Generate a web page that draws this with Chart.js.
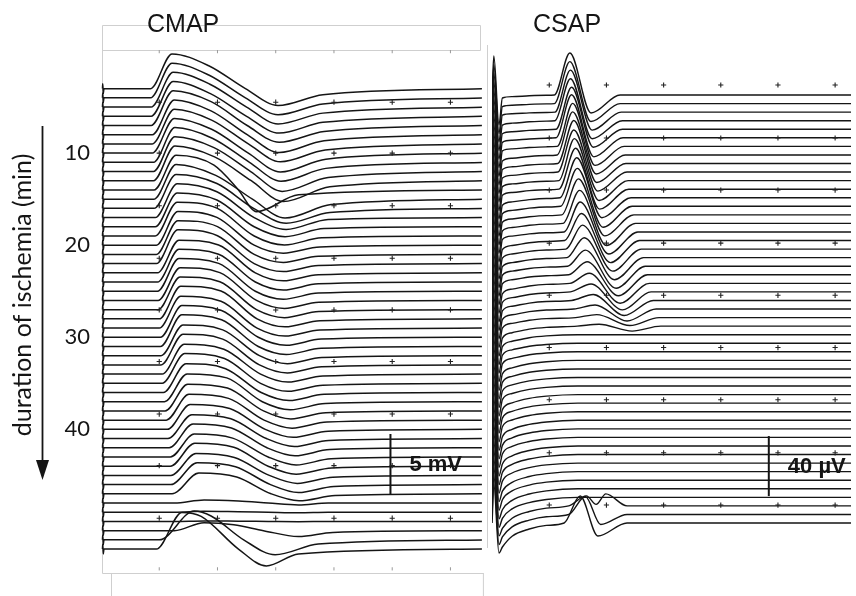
<!DOCTYPE html>
<html><head><meta charset="utf-8">
<script src="https://cdn.jsdelivr.net/npm/chart.js"></script>
<style>
html,body{margin:0;padding:0;background:#fff;}
#wrap{position:relative;width:856px;height:596px;overflow:hidden;background:#fff;}
#wrap canvas{position:absolute;top:0;}
</style></head><body>
<div id="wrap">
<canvas id="cmap" width="487" height="596" style="left:0;width:487px;height:596px"></canvas>
<canvas id="csap" width="369" height="596" style="left:487px;width:369px;height:596px"></canvas>
</div>
<script>
// ---- recording times (min of ischemia) of the stacked sweeps ----
const traceMinutes = [3,4,5,6,7,8,9,10,11,12,13,14,15,16,17,18,19,20,21,22,23,24,25,26,27,28,29,30,31,32,33,34,35,36,37,38,39,40,41,42,43,44,45,46,47,48,49,50,51,52,53];
const minuteTicks = [10,20,30,40];
const panelTitles = ['CMAP','CSAP'];
const axisTitle = 'duration of ischemia (min)';
const scaleBarValues = [5, 40];
const scaleBarLabels = ['5 mV','40 µV'];
const gridMs = [1,2,3,4,5,6];
const cmapGridRows = [4.47,10.0,15.71,21.42,27.03,32.63,38.34,43.94,49.65];
const cmapFrameRows = [-1.02,55.15];
const csapGridRows = [1.83,8.02,14.1,20.3,26.4,32.5,38.6,44.8,50.9];

// ---- CMAP key points per sweep (ms, mV) ----
const cmapOnset = [0.85,0.85,0.86,0.86,0.86,0.88,0.88,0.88,0.90,0.90,
 0.90,0.91,0.91,0.91,0.93,0.93,0.93,0.95,0.95,0.95,
 0.97,0.97,0.97,0.98,0.98,1.00,1.00,1.02,1.02,1.03,
 1.03,1.05,1.05,1.07,1.09,1.10,1.12,1.14,1.15,1.17,
 1.19,1.19,1.20,1.20,1.22,1.26,1.26,1.26,1.26,1.00,
 0.95];
const cmapPeakT = [1.22,1.22,1.24,1.24,1.24,1.26,1.26,1.26,1.27,1.27,
 1.27,1.29,1.29,1.29,1.31,1.31,1.31,1.32,1.32,1.32,
 1.34,1.34,1.34,1.36,1.36,1.37,1.37,1.39,1.39,1.41,
 1.41,1.43,1.44,1.46,1.48,1.49,1.51,1.53,1.56,1.58,
 1.60,1.61,1.63,1.65,1.68,1.77,1.77,1.77,1.77,1.60,
 1.39];
const cmapPeak = [2.87,2.87,2.87,2.87,2.87,2.87,2.87,2.87,2.87,2.87,
 2.87,2.87,2.87,2.79,2.79,2.79,2.79,2.79,2.79,2.79,
 2.70,2.70,2.70,2.70,2.70,2.70,2.62,2.62,2.62,2.54,
 2.54,2.46,2.46,2.38,2.30,2.21,2.13,2.05,1.97,1.97,
 1.89,1.89,1.80,1.80,1.72,0.25,0.08,0.04,0.66,2.38,
 3.03];
const cmapShoulderT = [1.85,1.85,1.87,1.87,1.89,1.89,1.90,1.90,1.92,1.94,
 1.95,1.94,1.97,1.99,1.99,1.99,1.99,1.99,2.00,2.00,
 2.02,2.02,2.02,2.04,2.04,2.06,2.06,2.07,2.07,2.09,
 2.09,2.11,2.12,2.14,2.16,2.17,2.19,2.21,2.23,2.24,
 2.26,2.28,2.29,2.31,2.33,2.36,2.36,2.36,2.28,1.89,
 1.72];
const cmapShoulder = [1.89,1.89,1.89,1.89,1.97,1.97,1.97,1.97,1.97,1.97,
 1.97,2.05,1.97,2.05,2.13,2.21,2.30,2.30,2.30,2.30,
 2.30,2.30,2.30,2.30,2.30,2.30,2.21,2.21,2.21,2.13,
 2.13,2.05,2.05,1.97,1.97,1.89,1.80,1.72,1.64,1.64,
 1.56,1.56,1.48,1.48,1.39,0.16,0.04,0.02,0.49,1.97,
 2.70];
const cmapZeroT = [2.48,2.48,2.50,2.50,2.51,2.51,2.53,2.53,2.55,2.57,
 2.58,2.36,2.60,2.62,2.63,2.63,2.63,2.63,2.63,2.63,
 2.65,2.65,2.65,2.67,2.67,2.68,2.68,2.70,2.70,2.72,
 2.72,2.74,2.74,2.75,2.77,2.79,2.80,2.82,2.84,2.85,
 2.87,2.87,2.89,2.91,2.92,2.87,2.87,2.87,2.79,2.45,
 2.36];
const cmapTroughT = [3.04,3.04,3.04,3.06,3.06,3.06,3.08,3.08,3.09,3.11,
 3.13,2.67,3.16,3.18,3.18,3.16,3.15,3.13,3.13,3.13,
 3.13,3.13,3.13,3.15,3.15,3.16,3.16,3.18,3.18,3.20,
 3.20,3.21,3.21,3.23,3.25,3.26,3.28,3.30,3.32,3.33,
 3.35,3.35,3.37,3.39,3.40,3.39,3.39,3.39,3.39,2.99,
 2.84];
const cmapTrough = [-1.39,-1.39,-1.39,-1.39,-1.39,-1.48,-1.48,-1.56,-1.56,-1.64,
 -1.72,-1.80,-1.56,-1.23,-0.98,-0.82,-0.74,-0.66,-0.66,-0.66,
 -0.66,-0.66,-0.66,-0.66,-0.66,-0.66,-0.66,-0.66,-0.66,-0.66,
 -0.66,-0.66,-0.66,-0.66,-0.66,-0.66,-0.66,-0.66,-0.66,-0.66,
 -0.66,-0.66,-0.66,-0.66,-0.57,-0.16,-0.04,-0.02,-0.49,-1.23,
 -1.39];
const cmapRecT = [3.81,3.81,3.81,3.81,3.83,3.83,3.85,3.86,3.86,3.90,
 3.93,3.39,3.95,3.93,3.90,3.83,3.79,3.76,3.73,3.73,
 3.73,3.73,3.73,3.74,3.74,3.76,3.76,3.78,3.78,3.79,
 3.79,3.81,3.81,3.83,3.85,3.86,3.88,3.90,3.91,3.93,
 3.95,3.96,3.98,4.00,4.02,3.90,3.90,3.90,3.98,3.73,
 3.39];
const cmapRec = [-0.50,-0.50,-0.50,-0.50,-0.50,-0.50,-0.50,-0.50,-0.50,-0.50,
 -0.50,-0.40,-0.45,-0.35,-0.15,-0.15,-0.15,-0.15,-0.15,-0.15,
 -0.15,-0.15,-0.15,-0.15,-0.15,-0.15,-0.15,-0.15,-0.15,-0.15,
 -0.15,-0.15,-0.15,-0.15,-0.15,-0.15,-0.15,-0.15,-0.15,-0.15,
 -0.15,-0.15,-0.15,-0.15,-0.15,0,0,0,-0.15,-0.35,
 -0.40];

// ---- CSAP key points per sweep (ms, µV) ----
const csapArtifact = [-2,-2,-2,-3,-3,-3,-3,-4,-4,-4,
 -4,-4,-5,-5,-5,-5,-5,-6,-6,-6,
 -6,-6,-7,-7,-7,-7,-7,-8,-8,-8,
 -8,-9,-9,-9,-9,-10,-10,-10,-11,-11,
 -11,-12,-12,-12,-13,-13,-14,-14,-15,-15,
 -16];
const csapOnsetT = [1.09,1.09,1.10,1.10,1.12,1.12,1.14,1.14,1.15,1.15,
 1.17,1.17,1.19,1.20,1.22,1.24,1.26,1.27,1.29,1.31,
 1.32,1.34,1.36,1.37,1.39,1.43,1.46,1.49,1.50,1.50,
 1.50,1.50,1.50,1.50,1.50,1.50,1.50,1.50,1.50,1.50,
 1.50,1.50,1.50,1.50,1.50,1.50,1.50,1.50,1.34,1.34,
 1.26];
const csapPeakT = [1.36,1.36,1.37,1.37,1.39,1.39,1.41,1.41,1.43,1.43,
 1.44,1.46,1.48,1.49,1.51,1.53,1.54,1.56,1.58,1.61,
 1.63,1.66,1.70,1.73,1.77,1.80,1.83,1.87,1.90,1.90,
 1.90,1.90,1.90,1.90,1.90,1.90,1.90,1.90,1.90,1.90,
 1.90,1.90,1.90,1.90,1.90,1.90,1.90,1.90,1.65,1.63,
 1.54];
const csapPeak = [28,28,28,28,28,28.7,28.7,28.7,28.7,28,
 28,27.3,26.7,25.3,24,22,20,18,16,13.3,
 10.7,8.7,6.7,5.3,4,2.7,2,1.3,0,0,
 0,0,0,0,0,0,0,0,0,0,
 0,0,0,0,0,0,0,0,6.7,12,
 18];
const csapTroughT = [1.73,1.73,1.75,1.75,1.77,1.78,1.80,1.82,1.83,1.85,
 1.87,1.88,1.92,1.94,1.97,2.00,2.04,2.07,2.11,2.14,
 2.17,2.21,2.24,2.28,2.31,2.36,2.41,2.45,2.50,2.50,
 2.50,2.50,2.50,2.50,2.50,2.50,2.50,2.50,2.50,2.50,
 2.50,2.50,2.50,2.50,2.50,2.50,2.50,2.50,1.82,1.90,
 1.85];
const csapTrough = [-12,-12,-12,-12,-12,-12.7,-12.7,-12.7,-12.7,-12.7,
 -13.3,-13.3,-13.3,-14,-14,-14.7,-14.7,-14.7,-14.7,-14.7,
 -14.7,-14,-13.3,-12,-10,-8,-5.3,-3.3,0,0,
 0,0,0,0,0,0,0,0,0,0,
 0,0,0,0,0,0,0,0,1,-6.7,
 -8.7];
const csapPeak2T = [null,null,null,null,null,null,null,null,null,null,
 null,null,null,null,null,null,null,null,null,null,
 null,null,null,null,null,null,null,null,null,null,
 null,null,null,null,null,null,null,null,null,null,
 null,null,null,null,null,null,null,null,1.99,null,
 null];
const csapPeak2 = [null,null,null,null,null,null,null,null,null,null,
 null,null,null,null,null,null,null,null,null,null,
 null,null,null,null,null,null,null,null,null,null,
 null,null,null,null,null,null,null,null,null,null,
 null,null,null,null,null,null,null,null,8,null,
 null];
const csapRecT = [2.24,2.24,2.26,2.28,2.28,2.29,2.31,2.33,2.34,2.36,
 2.38,2.39,2.43,2.45,2.48,2.51,2.55,2.58,2.61,2.65,
 2.68,2.72,2.75,2.78,2.82,2.87,2.92,2.95,3.00,3.00,
 3.00,3.00,3.00,3.00,3.00,3.00,3.00,3.00,3.00,3.00,
 3.00,3.00,3.00,3.00,3.00,3.00,3.00,3.00,2.36,2.36,
 2.36];

// ---- display gains (vertical size of 1 unit in minutes of the stack) ----
const CMAP_MIN_PER_MV = 1.3145;
const CSAP_MIN_PER_UV = 0.1752;
const INK = '#151515';

function cmapTrace(i){
  const b = traceMinutes[i];
  const pts = [[0.025,0],[0.03,0.4],[0.04,-0.4],[0.05,0],
    [cmapOnset[i],0],[cmapPeakT[i],cmapPeak[i]],[cmapShoulderT[i],cmapShoulder[i]],
    [cmapZeroT[i],0],[cmapTroughT[i],cmapTrough[i]],[cmapRecT[i],cmapRec[i]],[6.6,0]];
  return pts.map(p => ({x:p[0], y:b - p[1]*CMAP_MIN_PER_MV}));
}
function csapTrace(i){
  const b = traceMinutes[i], a = csapArtifact[i];
  const pts = [[0,0],[0.03,26],[0.12,-20],[0.18,a],[0.35,a*0.55],[0.65,a*0.25],[0.95,a*0.1],
    [csapOnsetT[i],0],[csapPeakT[i],csapPeak[i]],[csapTroughT[i],csapTrough[i]]];
  if (csapPeak2T[i] !== null) pts.push([csapPeak2T[i], csapPeak2[i]]);
  pts.push([csapRecT[i],0],[6.4,0]);
  return pts.map(p => ({x:p[0], y:b - p[1]*CSAP_MIN_PER_UV}));
}
function gridPoints(rows){
  const out = [];
  rows.forEach(r => gridMs.forEach(x => out.push({x, y:r})));
  return out;
}
const traceStyle = (w) => ({showLine:true, borderColor:INK, borderWidth:w, pointRadius:0,
  cubicInterpolationMode:'monotone', fill:false});

// ----- CMAP datasets -----
const cmapSets = [];
cmapSets.push({data:gridPoints(cmapGridRows), showLine:false, pointStyle:'cross', pointRadius:2.6,
  pointBorderWidth:1.1, pointBorderColor:'#222'});
cmapSets.push({data:gridPoints(cmapFrameRows), showLine:false, pointStyle:'line', rotation:90,
  pointRadius:1.6, pointBorderWidth:1, pointBorderColor:'#999'});
const cmapBarAnchor = 47.07, cmapBarMs = 4.97;
cmapSets.push({data:[{x:cmapBarMs,y:cmapBarAnchor},{x:cmapBarMs,y:cmapBarAnchor - scaleBarValues[0]*CMAP_MIN_PER_MV}],
  showLine:true, borderColor:INK, borderWidth:2, pointRadius:0, barLabel:scaleBarLabels[0]});
traceMinutes.forEach((m,i) => cmapSets.push(Object.assign({data:cmapTrace(i)}, traceStyle(1.5))));

// ----- CSAP datasets -----
const csapSets = [];
csapSets.push({data:gridPoints(csapGridRows), showLine:false, pointStyle:'cross', pointRadius:2.6,
  pointBorderWidth:1.1, pointBorderColor:'#222'});
const csapBarAnchor = 49.85, csapBarMs = 4.84;
csapSets.push({data:[{x:csapBarMs,y:csapBarAnchor},{x:csapBarMs,y:csapBarAnchor - scaleBarValues[1]*CSAP_MIN_PER_UV}],
  showLine:true, borderColor:INK, borderWidth:2, pointRadius:0, barLabel:scaleBarLabels[1]});
traceMinutes.forEach((m,i) => csapSets.push(Object.assign({data:csapTrace(i)}, traceStyle(1.4))));

const barLabelPlugin = {
  id:'barLabel',
  afterDatasetsDraw(chart){
    const ctx = chart.ctx;
    chart.data.datasets.forEach((ds, di) => {
      if (!ds.barLabel) return;
      const pts = chart.getDatasetMeta(di).data;
      ctx.save();
      ctx.font = 'bold 22px "Liberation Sans", Arial, sans-serif';
      ctx.fillStyle = INK; ctx.textAlign = 'left'; ctx.textBaseline = 'middle';
      ctx.fillText(ds.barLabel, pts[0].x + 19, (pts[0].y + pts[1].y)/2 + 1);
      ctx.restore();
    });
  }
};
const cmapDecor = {
  id:'cmapDecor',
  beforeDatasetsDraw(chart){
    const {ctx, chartArea:a} = chart;
    ctx.save(); ctx.strokeStyle = '#cfcfcf'; ctx.lineWidth = 1;
    ctx.beginPath();
    ctx.rect(a.left + 1.5, 25.5, 378, 25);
    ctx.moveTo(a.left + 1.5, 50); ctx.lineTo(a.left + 1.5, 573.5); ctx.lineTo(a.right + 2, 573.5);
    ctx.moveTo(a.left + 10.5, 573.5); ctx.lineTo(a.left + 10.5, 600);
    ctx.moveTo(a.right + 1.5, 573.5); ctx.lineTo(a.right + 1.5, 600);
    ctx.stroke(); ctx.restore();
  },
  afterDraw(chart){
    const ctx = chart.ctx;
    ctx.save();
    ctx.fillStyle = INK;
    ctx.font = '25px "Liberation Sans", Arial, sans-serif';
    ctx.textAlign = 'left'; ctx.textBaseline = 'alphabetic';
    ctx.fillText(panelTitles[0], 147, 32);
    // axis title (rotated)
    ctx.translate(23, 295); ctx.rotate(-Math.PI/2);
    ctx.font = '25px Lato, "Open Sans", sans-serif';
    ctx.textAlign = 'center'; ctx.textBaseline = 'middle';
    ctx.fillText(axisTitle, 0, 0);
    ctx.restore();
    // arrow
    ctx.save();
    ctx.strokeStyle = INK; ctx.fillStyle = INK; ctx.lineWidth = 1.8;
    ctx.beginPath(); ctx.moveTo(42.5, 126); ctx.lineTo(42.5, 464); ctx.stroke();
    ctx.beginPath(); ctx.moveTo(36, 460); ctx.lineTo(49, 460); ctx.lineTo(42.5, 480); ctx.closePath(); ctx.fill();
    ctx.restore();
  }
};
const csapDecor = {
  id:'csapDecor',
  beforeDatasetsDraw(chart){
    const ctx = chart.ctx;
    ctx.save(); ctx.strokeStyle = '#cfcfcf'; ctx.lineWidth = 1;
    ctx.beginPath(); ctx.moveTo(0.5, 45); ctx.lineTo(0.5, 548); ctx.stroke();
    ctx.restore();
  },
  afterDraw(chart){
    const ctx = chart.ctx;
    ctx.save(); ctx.fillStyle = INK;
    ctx.font = '25px "Liberation Sans", Arial, sans-serif';
    ctx.textAlign = 'left'; ctx.textBaseline = 'alphabetic';
    ctx.fillText(panelTitles[1], 46, 32);
    ctx.restore();
  }
};

const common = {
  responsive:false, animation:false, events:[],
  plugins:{legend:{display:false}, tooltip:{enabled:false}, title:{display:false}},
};

new Chart(document.getElementById('cmap'), {
  type:'scatter',
  data:{datasets:cmapSets},
  plugins:[cmapDecor, barLabelPlugin],
  options:Object.assign({}, common, {
    layout:{padding:{top:44, bottom:20, left:0, right:2}},
    scales:{
      x:{type:'linear', min:0, max:6.54, display:false},
      y:{type:'linear', reverse:true, min:-1.85, max:55.47,
         afterFit(s){ s.width = 101; },
         afterBuildTicks(s){ s.ticks = minuteTicks.map(v => ({value:v})); },
         grid:{display:false, drawTicks:false}, border:{display:false},
         ticks:{padding:11, color:INK, font:{family:'Lato', size:22}, callback:(v) => String(v)}}
    }
  })
});

new Chart(document.getElementById('csap'), {
  type:'scatter',
  data:{datasets:csapSets},
  plugins:[csapDecor, barLabelPlugin],
  options:Object.assign({}, common, {
    layout:{padding:{top:44, bottom:20, left:0, right:0}},
    scales:{
      x:{type:'linear', min:0, max:6.276, display:false},
      y:{type:'linear', reverse:true, min:-2.96, max:59.19, display:false}
    }
  })
});
</script>
</body></html>
